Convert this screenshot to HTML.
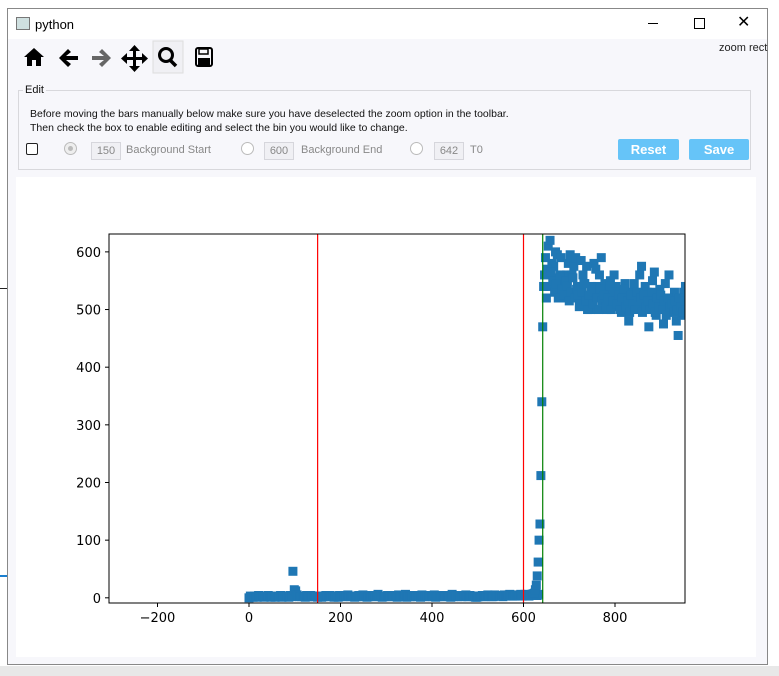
<!DOCTYPE html>
<html><head><meta charset="utf-8"><style>
body{margin:0;width:779px;height:676px;overflow:hidden;background:#fff;font-family:"Liberation Sans",sans-serif;position:relative}
.abs{position:absolute}
.win{left:7px;top:8px;width:761px;height:657px;background:#f7f7fb;border:1px solid #888;box-sizing:border-box}
.title{left:0;top:0;width:100%;height:30px;background:#fff}
.tb{font-size:11px;color:#222;white-space:nowrap}
.ed{font-size:11px;color:#111;white-space:nowrap}
.box{border:1px solid #d6d6dc;background:#f0f0f4;color:#888;font-size:11px;text-align:center;line-height:16px;height:16px}
.btn{background:#66c4f8;color:#fff;font-weight:bold;font-size:13px;text-align:center;line-height:21px;border-radius:2px}
.rad{width:11px;height:11px;border:1px solid #bbb;border-radius:50%;background:#fff}
</style></head><body>
<div class="abs" style="left:0;top:288px;width:8px;height:1px;background:#222"></div>
<div class="abs" style="left:0;top:575px;width:8px;height:2px;background:#1a7fd0"></div>
<div class="abs" style="left:0;top:666px;width:779px;height:10px;background:#e8e8e8"></div>
<div class="abs win">
 <div class="abs title">
  <div class="abs" style="left:8px;top:8px;width:12px;height:11px;border:1px solid #777;background:#cfe0e0"></div>
  <div class="abs" style="left:27px;top:8px;font-size:13px">python</div>
  <div class="abs" style="left:640px;top:14px;width:10px;height:1px;background:#000"></div>
  <div class="abs" style="left:686px;top:9px;width:9px;height:9px;border:1px solid #000"></div>
  <div class="abs" style="left:729px;top:3px;font-size:16px">✕</div>
 </div>
 <svg class="abs" style="left:0;top:30px" width="220" height="40">
  <g><polygon points="16,18 26,9 36,18 33,18 33,27 28,27 28,21 24,21 24,27 19,27 19,18" fill="#000"/></g>
  <g><polygon points="51,19 60,10 63,13 58,17 70,17 70,21 58,21 63,25 60,28" fill="#000"/></g>
  <g><polygon points="103,19 94,10 91,13 96,17 84,17 84,21 96,21 91,25 94,28" fill="#666"/></g>
  <g fill="#000"><rect x="125" y="10" width="3" height="19"/><rect x="117" y="18" width="19" height="3"/><polygon points="126.5,6 121,12 132,12"/><polygon points="126.5,33 121,27 132,27"/><polygon points="113,19.5 119,14 119,25"/><polygon points="140,19.5 134,14 134,25"/></g>
  <rect x="145" y="2" width="30" height="32" fill="#f0f0f4" stroke="#ddd"/>
  <circle cx="158" cy="16" r="6.5" fill="none" stroke="#000" stroke-width="3"/><line x1="162" y1="21" x2="168" y2="27" stroke="#000" stroke-width="3.5"/>
  <g><rect x="188" y="9" width="16" height="18" rx="2" fill="none" stroke="#000" stroke-width="2"/><rect x="191" y="10" width="9" height="5" fill="none" stroke="#000" stroke-width="1.5"/><rect x="190" y="19" width="12" height="7" fill="#000"/></g>
 </svg>
 <div class="abs tb" style="left:711px;top:33px">zoom rect</div>
 <div class="abs" style="left:10px;top:81px;width:731px;height:78px;border:1px solid #d8d8dc"></div>
 <div class="abs ed" style="left:15px;top:75px;background:#f7f7fb;padding:0 2px">Edit</div>
 <div class="abs ed" style="left:22px;top:98px;line-height:14px;font-size:10.5px">Before moving the bars manually below make sure you have deselected the zoom option in the toolbar.<br>Then check the box to enable editing and select the bin you would like to change.</div>
 <div class="abs" style="left:18px;top:134px;width:10px;height:10px;border:1.5px solid #222;border-radius:2px;background:#fff"></div>
 <div class="abs rad" style="left:56px;top:133px;background:#eee"><div class="abs" style="left:3px;top:3px;width:5px;height:5px;border-radius:50%;background:#bbb"></div></div>
 <div class="abs box" style="left:83px;top:133px;width:28px">150</div>
 <div class="abs ed" style="left:118px;top:135px;color:#888">Background Start</div>
 <div class="abs rad" style="left:233px;top:133px"></div>
 <div class="abs box" style="left:256px;top:133px;width:28px">600</div>
 <div class="abs ed" style="left:293px;top:135px;color:#888">Background End</div>
 <div class="abs rad" style="left:402px;top:133px"></div>
 <div class="abs box" style="left:426px;top:133px;width:28px">642</div>
 <div class="abs ed" style="left:462px;top:135px;color:#888">T0</div>
 <div class="abs btn" style="left:610px;top:130px;width:61px;height:21px">Reset</div>
 <div class="abs btn" style="left:681px;top:130px;width:60px;height:21px">Save</div>
 <div class="abs" style="left:8px;top:168px;width:740px;height:480px;background:#fff"></div>
</div>
<svg class="abs" style="left:0;top:0" width="779" height="676" id="chart"></svg>
<script>
const xTicks=[-200,0,200,400,600,800];
const yTicks=[0,100,200,300,400,500,600];
const lowX=[];const lowY=[0,2,3,1,2,3,2,4,1,2,3,2,1,3,2,4,46,12,3,2,3,4,2,3,2,1,3,2,4,3,2,1,3,4,2,3,5,2,3,2,4,3,2,1,3,2,4,6,3,2,3,2,4,3,1,2,3,6,3,2,4,2,3,5,2,3,4,2,1,3,2,4,3,2,6,3,2,3,4,5,2,3,2,1,3,4,2,5,3,2,3,4,3,5,4,6,3,4,5,6,5,4,3,6,5,4];
const lowY2=[3,1,2,4,2,1,3,2,3,1,2,4,3,2,1,2,14,5,2,3,1,2,4,2,3,2,1,3,2,4,3,2,1,3,2,4,3,2,1,3,2,5,3,2,4,3,2,3,1,2,4,3,2,3,5,2,3,1,2,4,3,2,1,3,4,2,3,5,2,3,4,2,3,1,2,3,4,2,3,2,4,3,1,2,3,2,4,3,2,5,3,4,2,3,5,4,3,5,4,3,6,5,4,7,8,6];
const riseX=[624,626,628,630,632,634,636,638,640,642,644];
const riseY=[8,14,22,38,62,100,128,212,340,470,540];
const highY=[560,520,610,620,580,575,600,595,555,590,520,540,560,580,595,560,575,590,540,505,585,560,545,575,510,500,530,580,570,540,560,590,520,545,500,530,550,510,560,540,520,505,495,510,545,500,480,530,515,545,525,505,560,575,500,540,530,470,520,550,565,490,510,535,500,475,545,520,560,500,505,530,480,455,510,490,530,540];
const highY2=[590,570,540,565,550,530,545,520,560,535,525,550,540,515,530,555,520,535,525,510,530,545,515,500,525,540,510,530,520,500,535,515,525,505,520,540,500,515,530,510,525,500,520,535,505,515,495,525,510,500,530,515,520,495,525,505,515,500,530,510,495,520,505,525,500,515,490,520,505,510,495,515,500,520,505,495,515,500];
const highX=[];const highX2=[];
for(let i=0;i<lowY.length;i++)lowX.push(i*6);
for(let i=0;i<highY.length;i++){highX.push(646+i*4);highX2.push(648+i*4);}
const bgStart=150,bgEnd=600,t0=642;
const X0=109,X1=685,Y0=603,Y1=234,xmin=-306,xmax=953,ymin=-9,ymax=631;
const sx=v=>X0+(v-xmin)/(xmax-xmin)*(X1-X0);
const sy=v=>Y0-(v-ymin)/(ymax-ymin)*(Y0-Y1);
const svg=document.getElementById('chart');const NS='http://www.w3.org/2000/svg';
function mk(t,a){const e=document.createElementNS(NS,t);for(const k in a)e.setAttribute(k,a[k]);svg.appendChild(e);return e;}
const clip=mk('clipPath',{id:'c'});const cr=document.createElementNS(NS,'rect');cr.setAttribute('x',X0);cr.setAttribute('y',Y1);cr.setAttribute('width',X1-X0);cr.setAttribute('height',Y0-Y1);clip.appendChild(cr);
const g=mk('g',{'clip-path':'url(#c)'});
function pt(x,y){const r=document.createElementNS(NS,'rect');r.setAttribute('x',sx(x)-4.5);r.setAttribute('y',sy(y)-4.5);r.setAttribute('width',9);r.setAttribute('height',9);r.setAttribute('fill','#1f77b4');


g.appendChild(r);}
lowX.forEach((x,i)=>{pt(x,lowY[i]);pt(x+3,lowY2[i]);});riseX.forEach((x,i)=>pt(x,riseY[i]));highX.forEach((x,i)=>pt(x,highY[i]));highX2.forEach((x,i)=>pt(x,highY2[i]));
function vline(v,c,n){const l=mk('line',{x1:sx(v),x2:sx(v),y1:Y1,y2:Y0,stroke:c,'stroke-width':1.2});

}
vline(bgStart,'#f00','bg-start-line');vline(bgEnd,'#f00','bg-end-line');vline(t0,'#008000','t0-line');
const fr=mk('rect',{x:X0,y:Y1,width:X1-X0,height:Y0-Y1,fill:'none',stroke:'#000','stroke-width':1});


xTicks.forEach(v=>{mk('line',{x1:sx(v),x2:sx(v),y1:Y0,y2:Y0+4,stroke:'#000'});const t=mk('text',{x:sx(v),y:Y0+19,'text-anchor':'middle','font-size':13,'font-family':'DejaVu Sans, sans-serif'});t.textContent=v<0?'\u2212'+(-v):v;

});
yTicks.forEach(v=>{mk('line',{x1:X0-4,x2:X0,y1:sy(v),y2:sy(v),stroke:'#000'});const t=mk('text',{x:X0-8,y:sy(v)+5,'text-anchor':'end','font-size':13,'font-family':'DejaVu Sans, sans-serif'});t.textContent=v;

});
</script>
</body></html>
